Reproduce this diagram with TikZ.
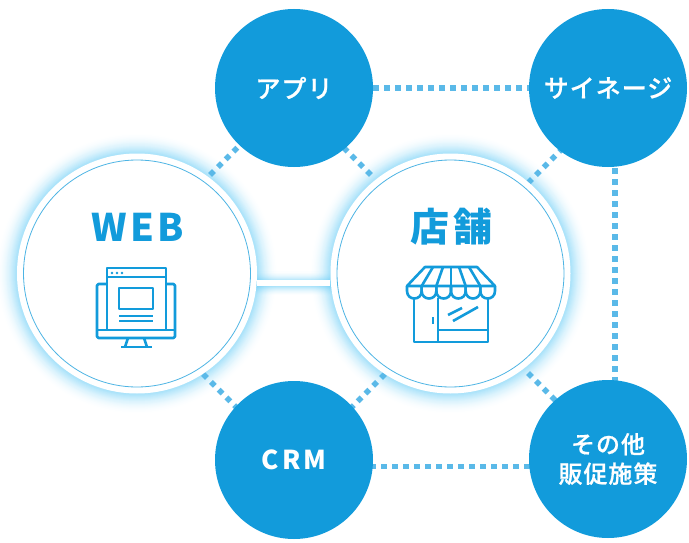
\documentclass[tikz,border=0pt]{standalone}
\usepackage{fontspec}
\newfontfamily\jp[LetterSpace=4,FakeBold=0.6]{Noto Sans CJK JP Medium}
\newfontfamily\jpb[LetterSpace=9]{Noto Sans CJK JP}
\newfontfamily\jpc[LetterSpace=12]{Noto Sans CJK JP}
\usetikzlibrary{calc}
\definecolor{mainblue}{HTML}{129BDB}
\definecolor{dotblue}{HTML}{5AB9E8}
\definecolor{glowblue}{HTML}{5CC8F5}
\tikzset{
  small/.style={circle,fill=mainblue,minimum size=158pt,inner sep=0pt,text=white,font=\jp\fontsize{25}{30}\selectfont,align=center},
  big/.style={circle,fill=white,minimum size=240pt,inner sep=0pt},
  ring/.style={draw=mainblue!75,line width=.8pt},
  dots/.style={draw=dotblue,line width=5.5pt,dash pattern=on 5.5pt off 5.5pt},
  icon/.style={draw=mainblue,line width=2.6pt,line join=round},
  head/.style={text=mainblue,font=\jpb\bfseries\fontsize{38}{40}\selectfont,inner sep=0pt},
}
\begin{document}
\begin{tikzpicture}[x=1pt,y=-1pt]
\useasboundingbox (0,0) rectangle (689,543);
\coordinate (webc) at (137,273.5);
\coordinate (shopc) at (450.5,273.5);
\coordinate (appc) at (294,88);
\coordinate (sigc) at (608,88);
\coordinate (crmc) at (294,460);
\coordinate (othc) at (608,459);
% glow round the big circles
\foreach \r/\o in {121/.08,122/.07,123/.07,124/.06,125/.06,126/.055,127/.05,128/.045,129/.04,130/.035,131/.03,132/.025,133/.02,134/.018,135/.015,136/.012,137/.01,138/.008,139/.006,140/.005}{
  \fill[glowblue,opacity=\o] (webc) circle (\r);
  \fill[glowblue,opacity=\o] (shopc) circle (\r);
}
% glow round the solid link
\foreach \w/\o in {7/.16,9/.12,11/.10,13/.08,15/.06,17/.05,19/.04,21/.03,24/.02}{
  \draw[glowblue,opacity=\o,line width=\w pt] ($(webc)+(100,9.5)$) -- ($(shopc)+(-100,9.5)$);
}
% dotted connectors
\draw[dots] ($(appc)+(79.25,0)$) -- (sigc);
\draw[dots] ($(crmc)+(76.25,6.5)$) -- ($(othc)+(0,7.5)$);
\draw[dots] ($(sigc)+(7,-7.75)$) -- ($(othc)+(7,0)$);
\coordinate (d1) at (210.1,174.9);
\coordinate (d2) at (370.9,174.9);
\coordinate (d3) at (528.1,182.9);
\coordinate (d4) at (528.1,373.1);
\coordinate (d5) at (203.1,374.1);
\coordinate (d6) at (384.9,374.1);
\draw[dots] (d1) -- ($(d1)+(60,-60)$);
\draw[dots] (d2) -- ($(d2)+(-60,-60)$);
\draw[dots] (d3) -- ($(d3)+(60,-60)$);
\draw[dots] (d4) -- ($(d4)+(60,60)$);
\draw[dots] (d5) -- ($(d5)+(60,60)$);
\draw[dots] (d6) -- ($(d6)+(-60,60)$);
% big circles
\node[big] (web) at (webc) {};
\node[big] (shop) at (shopc) {};
\draw[ring] (web.center) circle (113.5);
\draw[ring] (shop.center) circle (113.5);
% solid link
\draw[white,line width=5.5pt] ($(web.east)+(0,9.5)$) coordinate (la) -- ($(shop.west)+(0,9.5)$) coordinate (lb);
% small circles
\node[small] (app) at (appc) {アプリ};
\node[small] (sig) at (sigc) {サイネージ};
\node[small,font=\jpc\bfseries\fontsize{26}{30}\selectfont] (crm) at (crmc) {CRM};
\node[small,font=\jp\fontsize{24}{29.5}\selectfont] (oth) at (othc) {その他\\販促施策};
% headings
\node[head] (webt) at (137.5,227) {WEB};
\node[head,font=\jpb\bfseries\fontsize{39}{40}\selectfont] (shopt) at (451.5,227) {店舗};
% web icon
\draw[icon,rounded corners=1.5pt] (107,284) -- (97,284) -- (97,338) -- (175,338) -- (175,284) -- (166,284);
\draw[icon] (107,330) -- (107,268) -- (166,268) -- (166,330);
\draw[icon] (107,277) -- (166,277);
\draw[icon] (97,330) -- (175,330);
\draw[icon] (119,288) rectangle (153,309);
\draw[icon] (119,316) -- (153,316);
\draw[icon] (119,321) -- (153,321);
\draw[icon] (128,338) -- (125,347);
\draw[icon] (144,338) -- (147,347);
\draw[icon] (121,347) -- (152,347);
\foreach \x in {112,117,122}{\fill[mainblue] (\x,273) circle (1.3);}
% shop icon
\draw[icon] (407,286) -- (425,267) -- (477,267) -- (495,286) -- cycle;
\foreach \x in {407,421.67,436.33,451,465.67,480.33}{
  \draw[icon] (\x,286) -- (\x,291) .. controls (\x,301) and (\x+14.67,301) .. (\x+14.67,291) -- (\x+14.67,286);
}
\draw[icon] (421.67,286) -- (433,267);
\draw[icon] (436.33,286) -- (443,267);
\draw[icon] (451,286) -- (451,267);
\draw[icon] (465.67,286) -- (459,267);
\draw[icon] (480.33,286) -- (469,267);
\draw[icon] (414,297) -- (414,342) -- (488,342) -- (488,297);
\draw[icon] (438,298) -- (438,342);
\draw[icon] (438,330) -- (488,330);
\draw[icon] (433,317) -- (433,324);
\draw[icon] (448,315) -- (462,308);
\draw[icon] (453,321) -- (478,307);
\end{tikzpicture}
\end{document}
